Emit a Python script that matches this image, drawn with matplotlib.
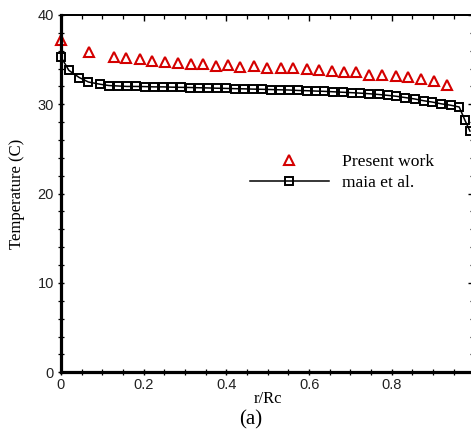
#Import useful packages
import numpy as np
import matplotlib
matplotlib.use("Agg")
import matplotlib.pyplot as plt
from matplotlib.ticker import MultipleLocator

#Values
present_r = [0.0, 0.068, 0.129, 0.158, 0.190, 0.220, 0.252, 0.284, 0.314, 0.344,
             0.375, 0.405, 0.434, 0.467, 0.499, 0.531, 0.560, 0.594, 0.624, 0.655,
             0.685, 0.713, 0.746, 0.777, 0.810, 0.840, 0.871, 0.902, 0.933]
present_T = [37.2, 35.9, 35.3, 35.2, 35.05, 34.9, 34.7, 34.6, 34.5, 34.5,
             34.3, 34.4, 34.15, 34.25, 34.1, 34.1, 34.05, 33.9, 33.8, 33.7,
             33.6, 33.6, 33.3, 33.3, 33.2, 33.1, 32.8, 32.6, 32.2]

maia_r = [0.0, 0.019, 0.044, 0.066, 0.094, 0.116, 0.138, 0.160, 0.181, 0.203,
          0.225, 0.247, 0.268, 0.290, 0.312, 0.334, 0.356, 0.377, 0.399, 0.421,
          0.443, 0.464, 0.486, 0.508, 0.530, 0.551, 0.573, 0.595, 0.617, 0.637,
          0.659, 0.681, 0.703, 0.724, 0.746, 0.768, 0.790, 0.811, 0.833, 0.855,
          0.877, 0.898, 0.920, 0.942, 0.963, 0.977, 0.989]
maia_T = [35.3, 33.8, 33.0, 32.5, 32.25, 32.1, 32.05, 32.0, 32.0, 31.98,
          31.95, 31.95, 31.92, 31.9, 31.88, 31.85, 31.83, 31.8, 31.78, 31.75,
          31.73, 31.7, 31.68, 31.65, 31.62, 31.6, 31.55, 31.52, 31.48, 31.45,
          31.4, 31.35, 31.3, 31.25, 31.18, 31.1, 31.0, 30.9, 30.75, 30.6,
          30.4, 30.25, 30.05, 29.9, 29.7, 28.2, 27.0]

serif = ['Liberation Serif', 'DejaVu Serif']
sans = ['Liberation Sans', 'DejaVu Sans']

fig = plt.figure(figsize=(4.71, 4.34), dpi=100)
ax = fig.add_axes([0.1295, 0.1422, 0.8779, 0.8233])

ax.plot(present_r, present_T, linestyle='none', marker='^', ms=7, mfc='none',
        mec='#d40000', mew=1.5, clip_on=False, label='Present work')
ax.plot(maia_r, maia_T, color='black', lw=1.1, marker='s', ms=5.8, mfc='none',
        mec='black', mew=1.4, clip_on=False, label='maia et al.')

ax.set_xlim(0, 1)
ax.set_ylim(0, 40)
ax.xaxis.set_major_locator(MultipleLocator(0.2))
ax.xaxis.set_minor_locator(MultipleLocator(0.05))
ax.yaxis.set_major_locator(MultipleLocator(10))
ax.yaxis.set_minor_locator(MultipleLocator(2))
ax.set_xticks([0, 0.2, 0.4, 0.6, 0.8])
ax.set_xticklabels(['0', '0.2', '0.4', '0.6', '0.8'])

#ticks crossing the left/bottom axes
ax.tick_params(axis='both', which='major', direction='inout', length=5, width=1,
               labelsize=10.5, labelcolor='#222222')
ax.tick_params(axis='both', which='minor', direction='inout', length=4, width=0.9)
ax.tick_params(axis='x', pad=1.5)
ax.tick_params(axis='y', pad=2.5)
for t in ax.get_xticklabels() + ax.get_yticklabels():
    t.set_family(sans)

#inward ticks on top and right
top = ax.secondary_xaxis('top')
top.xaxis.set_major_locator(MultipleLocator(0.2))
top.xaxis.set_minor_locator(MultipleLocator(0.05))
top.tick_params(which='major', direction='in', length=4, width=1, labeltop=False)
top.tick_params(which='minor', direction='in', length=2.7, width=0.9)
right = ax.secondary_yaxis('right')
right.yaxis.set_major_locator(MultipleLocator(10))
right.yaxis.set_minor_locator(MultipleLocator(2))
right.tick_params(which='major', direction='in', length=4.5, width=1, labelright=False)
right.tick_params(which='minor', direction='in', length=3, width=0.9)

ax.spines['left'].set_linewidth(2.3)
ax.spines['bottom'].set_linewidth(2.3)
for sp in [ax.spines['top'], ax.spines['right'], top.spines['top'], right.spines['right']]:
    sp.set_linewidth(1.3)

ax.set_xlabel('r/Rc', family=serif, fontsize=12)
ax.xaxis.set_label_coords(0.5006, -0.052)
ax.set_ylabel('Temperature (C)', family=serif, fontsize=12)
ax.yaxis.set_label_coords(-0.087, 0.5)

ax.legend(loc='center left', bbox_to_anchor=(0.457, 0.56), frameon=False,
          prop=dict(family=serif, size=12.6), handlelength=4.5, handletextpad=0.78,
          labelspacing=0.25, borderpad=0, borderaxespad=0)

fig.text(0.533, 0.032, '(a)', family=serif, fontsize=15, ha='center', va='center')

fig.savefig('out.png', dpi=100)
